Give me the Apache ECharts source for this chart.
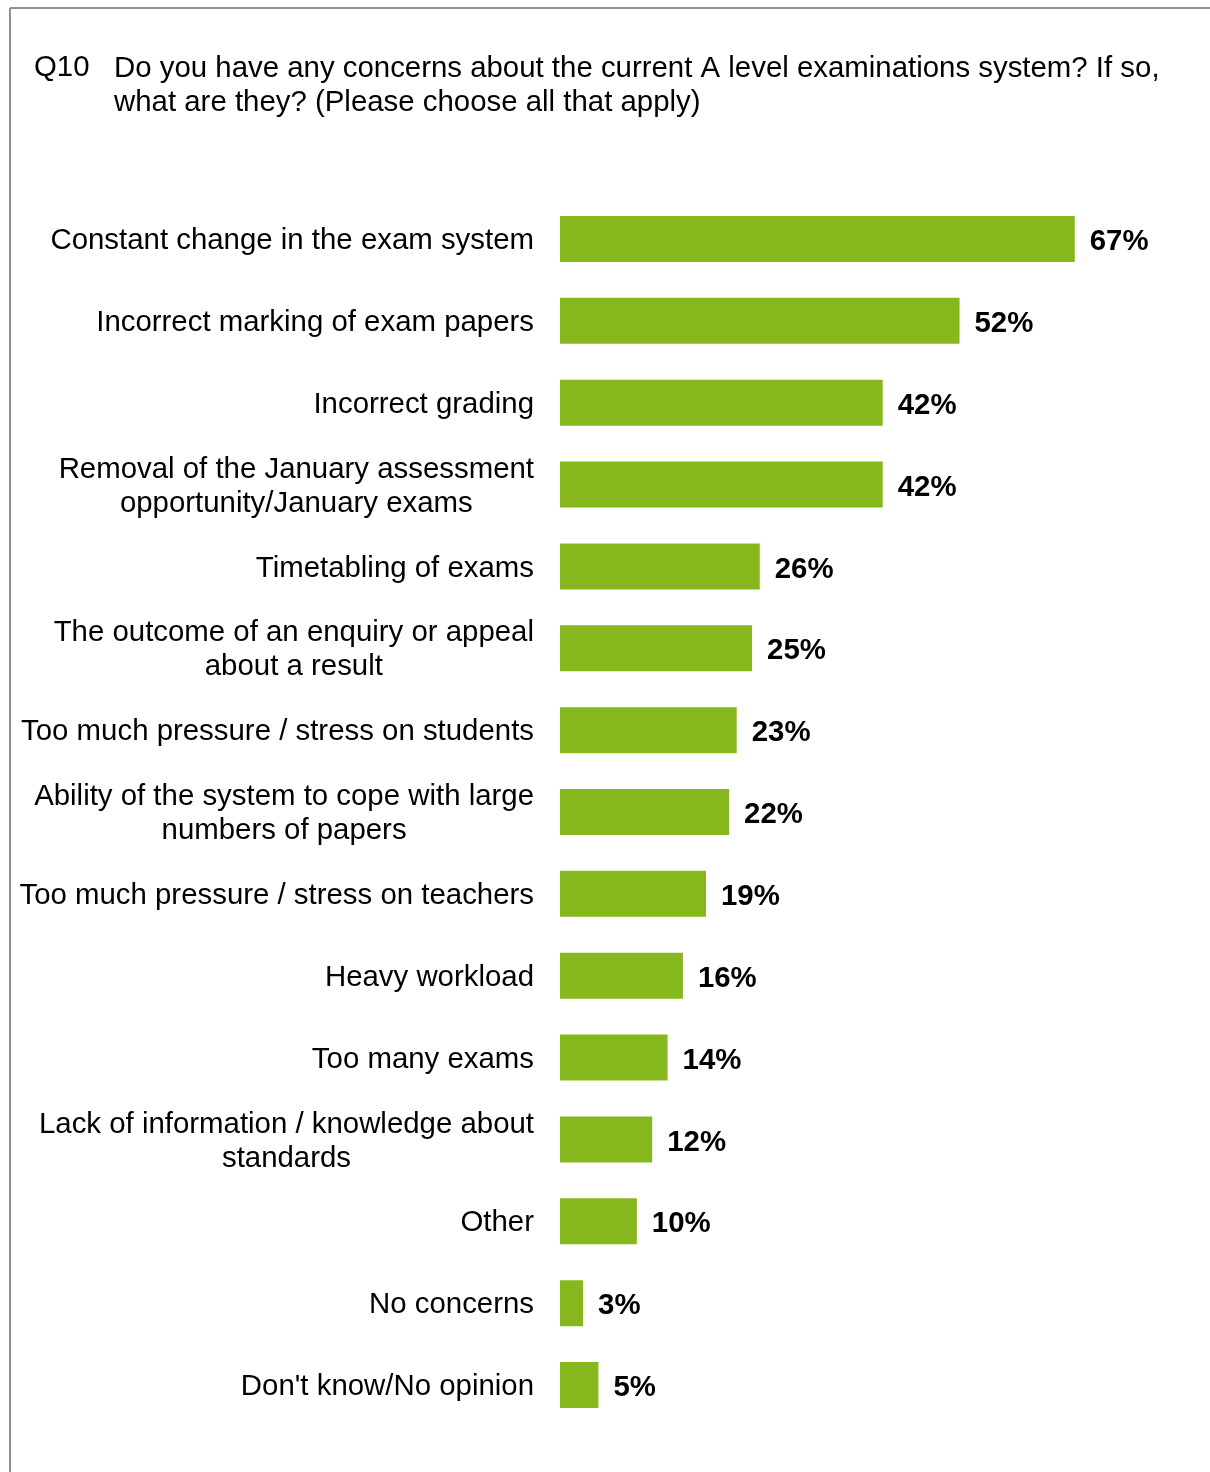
<!DOCTYPE html>
<html>
<head>
<meta charset="utf-8">
<script src="https://cdn.jsdelivr.net/npm/echarts@6/dist/echarts.min.js"></script>
<style>
  html, body { margin: 0; padding: 0; background: #ffffff; }
  #chart { width: 1210px; height: 1472px; }
</style>
</head>
<body>
<div id="chart"></div>
<script>
// Survey question
const questionNumber = 'Q10';
const questionText = 'Do you have any concerns about the current A level examinations system? If so,\nwhat are they? (Please choose all that apply)';

// Answer options, top to bottom
const categories = [
  'Constant change in the exam system',
  'Incorrect marking of exam papers',
  'Incorrect grading',
  'Removal of the January assessment\nopportunity/January exams',
  'Timetabling of exams',
  'The outcome of an enquiry or appeal\nabout a result',
  'Too much pressure / stress on students',
  'Ability of the system to cope with large\nnumbers of papers',
  'Too much pressure / stress on teachers',
  'Heavy workload',
  'Too many exams',
  'Lack of information / knowledge about\nstandards',
  'Other',
  'No concerns',
  "Don't know/No opinion"
];

// Share of respondents (%)
const values = [67, 52, 42, 42, 26, 25, 23, 22, 19, 16, 14, 12, 10, 3, 5];

const FONT = '"Liberation Sans", Arial, Helvetica, sans-serif';
const SIZE = 29.4;
const chart = echarts.init(document.getElementById('chart'), null, { renderer: 'canvas' });

chart.setOption({
  animation: false,
  backgroundColor: '#ffffff',
  graphic: [
    // frame lines along the top and left edge
    { type: 'line', silent: true, shape: { x1: 10, y1: 8, x2: 1210, y2: 8 },
      style: { stroke: '#8f8f8f', lineWidth: 2 } },
    { type: 'line', silent: true, shape: { x1: 10, y1: 8, x2: 10, y2: 1472 },
      style: { stroke: '#8f8f8f', lineWidth: 2 } },
    { type: 'text', left: 34, top: 53,
      style: { text: questionNumber, font: SIZE + 'px ' + FONT, fill: '#000000' } },
    { type: 'text', left: 114, top: 52,
      style: { text: questionText, font: SIZE + 'px ' + FONT, fill: '#000000', lineHeight: 34 } }
  ],
  grid: { left: 560, top: 198, width: 650, height: 1228, containLabel: false },
  xAxis: {
    type: 'value', min: 0, max: 84.6,
    show: false
  },
  yAxis: {
    type: 'category',
    data: categories,
    inverse: true,
    axisLine: { show: false },
    axisTick: { show: false },
    axisLabel: {
      margin: 26,
      align: 'right',
      padding: [4, 0, 0, 0],
      formatter: function (v) {
        return v.split('\n').map(function (l) { return '{c|' + l + '}'; }).join('\n');
      },
      rich: {
        c: { align: 'center', fontFamily: FONT, fontSize: SIZE, color: '#000000', lineHeight: 34 }
      }
    }
  },
  series: [{
    type: 'bar',
    data: values,
    barWidth: 46,
    itemStyle: { color: '#86B71C' },
    label: {
      show: true,
      position: 'right',
      distance: 15,
      offset: [0, 3],
      formatter: '{c}%',
      fontFamily: FONT,
      fontSize: SIZE,
      fontWeight: 'bold',
      color: '#000000'
    }
  }]
});
</script>
</body>
</html>
